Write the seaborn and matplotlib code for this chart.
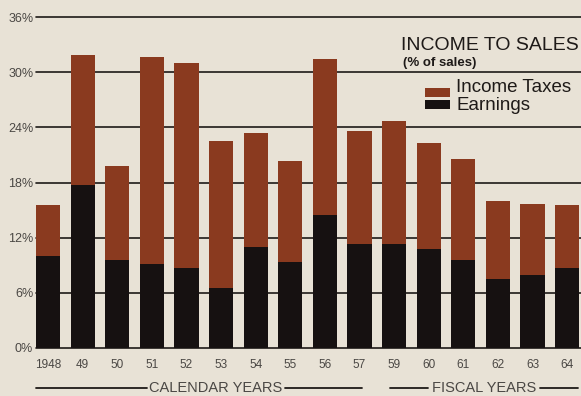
import matplotlib
matplotlib.use("Agg")
import matplotlib.pyplot as plt
from matplotlib.lines import Line2D
from matplotlib.patches import Rectangle
import seaborn as sns
import pandas as pd

years = ["1948", "49", "50", "51", "52", "53", "54", "55", "56",
         "57", "59", "60", "61", "62", "63", "64"]
earnings = [10.0, 17.7, 9.6, 9.1, 8.7, 6.5, 11.0, 9.3, 14.5,
            11.3, 11.3, 10.8, 9.6, 7.5, 7.9, 8.7]
income_taxes = [5.6, 14.2, 10.2, 22.5, 22.3, 16.0, 12.4, 11.0, 16.9,
                12.3, 13.4, 11.5, 11.0, 8.5, 7.8, 6.9]
y_ticks = [0, 6, 12, 18, 24, 30, 36]

BG = "#e8e2d6"
BROWN = "#8a3a1f"
BLACK = "#161111"
GRID = "#1e1a18"
TXT = "#4a4744"

df = pd.DataFrame({"year": years, "earnings": earnings, "taxes": income_taxes})
df["total"] = df["earnings"] + df["taxes"]

sns.set_theme(style="white")
plt.rcParams["font.family"] = ["Liberation Sans", "DejaVu Sans"]

fig = plt.figure(figsize=(5.81, 3.96), dpi=100, facecolor=BG)
ax = fig.add_axes([36 / 581, 48 / 396, 1 - 36 / 581, (348 - 17) / 396])
ax.set_facecolor(BG)

sns.barplot(data=df, x="year", y="total", order=years, color=BROWN,
            width=0.7, saturation=1, ax=ax, zorder=3, linewidth=0)
sns.barplot(data=df, x="year", y="earnings", order=years, color=BLACK,
            width=0.7, saturation=1, ax=ax, zorder=4, linewidth=0)

ax.set_ylim(0, 36)
ax.set_xlim(-0.35, 15.4)
ax.set_yticks(y_ticks)
ax.set_yticklabels([f"{t}%" for t in y_ticks], color=TXT, fontsize=9)
ax.tick_params(axis="y", length=0, pad=2)
ax.tick_params(axis="x", length=0, pad=8, labelsize=8.5, labelcolor=TXT)
for t in y_ticks:
    ax.axhline(t, color=GRID, lw=1.2, zorder=1, clip_on=False)
for s in ax.spines.values():
    s.set_visible(False)
ax.set_xlabel("")
ax.set_ylabel("")

# Title and legend
fig.text(579 / 581, 1 - 45 / 396, "INCOME TO SALES", ha="right", va="center",
         fontsize=14, color="#1e1a18")
fig.text(403 / 581, 1 - 63 / 396, "(% of sales)", ha="left", va="center",
         fontsize=9.5, fontweight="bold", color="#1e1a18")
fig.add_artist(Rectangle((425 / 581, 1 - 97 / 396), 25 / 581, 9 / 396,
                         transform=fig.transFigure, color=BROWN, lw=0))
fig.add_artist(Rectangle((425 / 581, 1 - 109 / 396), 25 / 581, 9 / 396,
                         transform=fig.transFigure, color=BLACK, lw=0))
fig.text(456 / 581, 1 - 88 / 396, "Income Taxes", ha="left", va="center",
         fontsize=13.5, color="#1e1a18")
fig.text(456 / 581, 1 - 106 / 396, "Earnings", ha="left", va="center",
         fontsize=13.5, color="#1e1a18")

# Calendar / fiscal year brackets
yb = 1 - 388 / 396
for x0, x1 in [(36, 147), (285, 362), (390, 428), (540, 578)]:
    fig.add_artist(Line2D([x0 / 581, x1 / 581], [yb, yb],
                          transform=fig.transFigure, color=GRID, lw=1.3))
fig.text(216 / 581, yb, "CALENDAR YEARS", ha="center", va="center",
         fontsize=10.5, color=TXT)
fig.text(484 / 581, yb, "FISCAL YEARS", ha="center", va="center",
         fontsize=10.5, color=TXT)

fig.savefig("out.png", dpi=100, facecolor=BG)
